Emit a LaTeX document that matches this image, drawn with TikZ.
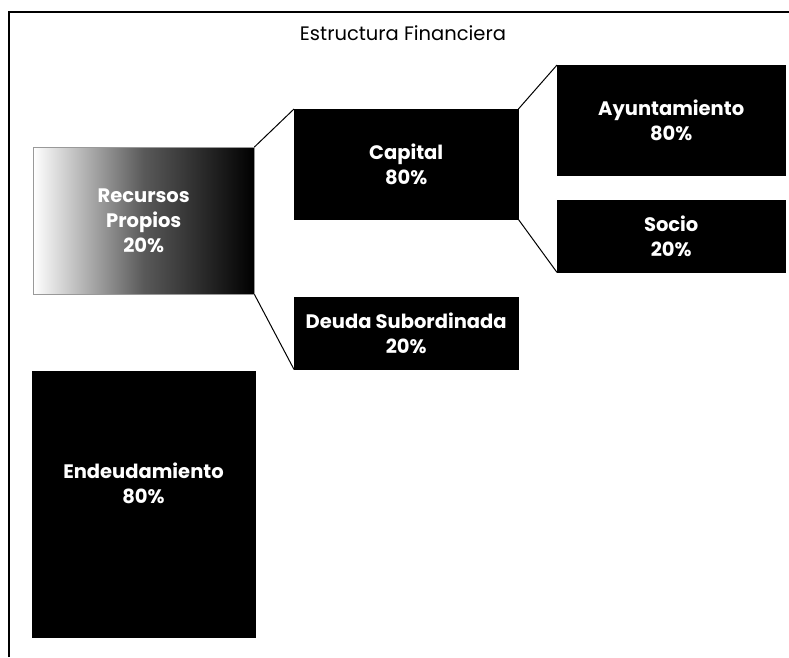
\documentclass[tikz,border=0pt]{standalone}
\usepackage{fontspec}
\setmainfont{Poppins}
\begin{document}
\begin{tikzpicture}[x=1pt,y=-1pt,
  txt/.style={text=white,font=\fontsize{19.5}{25}\selectfont\bfseries,align=center,inner sep=0pt},
  blk/.style={txt,draw=black,fill=black},
  rp/.style={txt,draw=black!40,left color=white,right color=black,middle color=black!65},
  conn/.style={draw=black,line width=1pt}]
\useasboundingbox (0,0) rectangle (789,657);
\fill[white] (0,0) rectangle (789,657);
\draw[line width=1.6pt] (9,657) -- (9,12) -- (789,12);
\node[font=\fontsize{19.5}{24}\selectfont] (title) at (403,33) {Estructura Financiera};
% boxes
\node[rp,minimum width=221pt,minimum height=147pt,anchor=north west] (rec) at (33,147) {Recursos\\Propios\\20\%};
\node[blk,minimum width=224pt,minimum height=110pt,anchor=north west] (cap) at (294,109) {Capital\\80\%};
\node[blk,minimum width=224pt,minimum height=72pt,anchor=north west] (deu) at (294,297) {Deuda Subordinada\\20\%};
\node[blk,minimum width=228pt,minimum height=110pt,anchor=north west] (ayu) at (557,65) {Ayuntamiento\\80\%};
\node[blk,minimum width=228pt,minimum height=72pt,anchor=north west] (soc) at (557,200) {Socio\\20\%};
\node[blk,minimum width=223pt,minimum height=266pt,anchor=north west] (end) at (32,371) {};
\node[txt] (endtxt) at (143.5,483) {Endeudamiento\\80\%};
% connectors
\draw[conn] (rec.north east) -- (cap.north west);
\draw[conn] (rec.south east) -- (deu.south west);
\draw[conn] (cap.north east) -- (ayu.north west);
\draw[conn] (cap.south east) -- (soc.south west);
\end{tikzpicture}
\end{document}
